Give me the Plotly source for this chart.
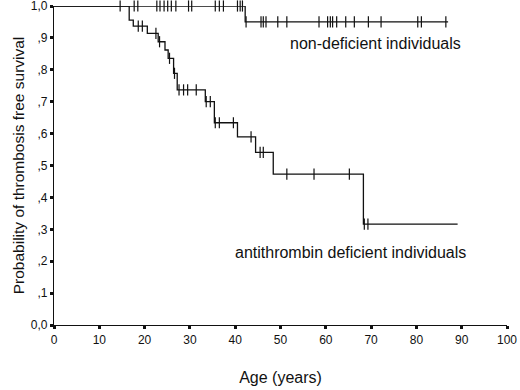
import plotly.graph_objects as go

# Non-deficient individuals: step curve (time, survival)
nd_times = [0, 42.2, 87.0]
nd_surv = [1.0, 0.95, 0.95]
nd_cens_t_top = [14.6, 17.7, 18.5, 22.7, 23.4, 24.3, 25.1, 25.9, 26.9, 29.7, 30.4,
                 35.6, 36.5, 37.4, 40.5, 41.1, 41.6]
nd_cens_t_low = [42.4, 45.7, 46.2, 46.8, 49.4, 51.4, 58.5, 60.4, 61.0, 61.5, 62.4,
                 64.4, 66.3, 69.4, 72.2, 80.3, 81.1, 86.5]

# Antithrombin deficient individuals
at_times = [0, 16.6, 17.5, 20.6, 23.0, 24.5, 25.2, 26.4, 27.2, 33.4, 35.4, 40.5, 44.5, 48.4, 68.3, 89.1]
at_surv = [1.0, 0.956, 0.937, 0.914, 0.888, 0.862, 0.836, 0.789, 0.737, 0.700, 0.634,
           0.590, 0.541, 0.473, 0.316, 0.316]
at_cens_t = [18.6, 19.5, 22.5, 23.3, 25.5, 26.6, 27.6, 28.6, 29.5, 31.4, 33.6, 34.5,
             35.6, 36.5, 39.6, 43.5, 45.5, 46.2, 51.4, 57.4, 65.2, 68.5, 69.3]
at_cens_s = [0.937, 0.937, 0.914, 0.888, 0.836, 0.789, 0.737, 0.737, 0.737, 0.737, 0.700, 0.700,
             0.634, 0.634, 0.634, 0.590, 0.541, 0.541, 0.473, 0.473, 0.473, 0.316, 0.316]

y_tickvals = [0, 0.1, 0.2, 0.3, 0.4, 0.5, 0.6, 0.7, 0.8, 0.9, 1.0]
y_ticktext = ["0,0", ",1", ",2", ",3", ",4", ",5", ",6", ",7", ",8", ",9", "1,0"]
x_tickvals = [0, 10, 20, 30, 40, 50, 60, 70, 80, 90, 100]

FONT = "Liberation Sans, Arial, sans-serif"
LC = "#111111"

fig = go.Figure()
fig.add_trace(go.Scatter(x=nd_times, y=nd_surv, mode="lines", line=dict(color=LC, width=1.3, shape="hv"),
                         cliponaxis=False, showlegend=False, hoverinfo="skip"))
fig.add_trace(go.Scatter(x=at_times, y=at_surv, mode="lines", line=dict(color=LC, width=1.3, shape="hv"),
                         cliponaxis=False, showlegend=False, hoverinfo="skip"))
fig.add_trace(go.Scatter(x=nd_cens_t_top + nd_cens_t_low,
                         y=[1.0] * len(nd_cens_t_top) + [0.95] * len(nd_cens_t_low),
                         mode="markers", cliponaxis=False, showlegend=False, hoverinfo="skip",
                         marker=dict(symbol="line-ns-open", size=8, color=LC, line=dict(color=LC, width=1.2))))
fig.add_trace(go.Scatter(x=at_cens_t, y=at_cens_s, mode="markers", cliponaxis=False, showlegend=False,
                         hoverinfo="skip",
                         marker=dict(symbol="line-ns-open", size=8, color=LC, line=dict(color=LC, width=1.2))))

fig.add_annotation(x=70.9, y=0.884, text="non-deficient individuals", showarrow=False,
                   font=dict(family=FONT, size=16, color=LC))
fig.add_annotation(x=65.4, y=0.226, text="antithrombin deficient individuals", showarrow=False,
                   font=dict(family=FONT, size=16, color=LC))

fig.update_layout(
    width=520, height=390,
    margin=dict(l=54, r=13, t=6, b=65),
    plot_bgcolor="white", paper_bgcolor="white",
    font=dict(family=FONT, size=12, color=LC),
    xaxis=dict(range=[0, 100], tickvals=x_tickvals, showline=True, linecolor=LC, linewidth=1.2,
               ticks="outside", ticklen=3, tickwidth=3, tickcolor=LC, showgrid=False, zeroline=False,
               title=dict(text="Age (years)", font=dict(family=FONT, size=16, color=LC), standoff=26),
               automargin=False, tickfont=dict(size=12), ticklabeloverflow="allow"),
    yaxis=dict(range=[0, 1.0], tickvals=y_tickvals, ticktext=y_ticktext, showline=True, linecolor=LC,
               linewidth=1.2, ticks="outside", ticklen=3, tickwidth=3, tickcolor=LC, showgrid=False,
               zeroline=False,
               title=dict(text="Probability of thrombosis free survival",
                          font=dict(family=FONT, size=15.5, color=LC), standoff=2),
               automargin=False, tickfont=dict(size=12), ticklabeloverflow="allow"),
)

fig.write_html("out.html", config={"displayModeBar": False},
               post_script="document.body.style.margin='0px';")
